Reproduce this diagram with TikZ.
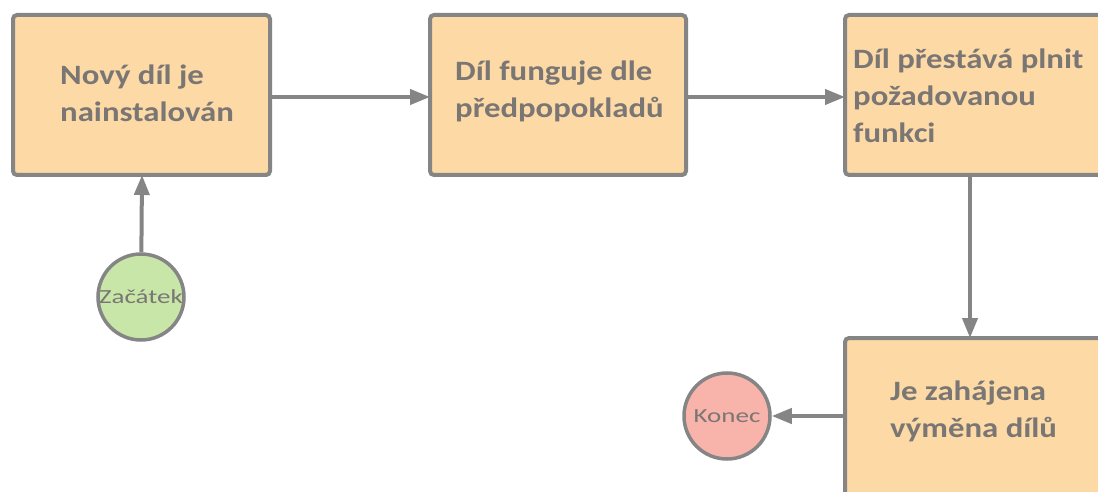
\documentclass[tikz,border=0pt]{standalone}
\usepackage{fontspec}
\setmainfont{Carlito}
\newfontfamily\boxfont{Carlito}[FakeStretch=1.17]
\newfontfamily\termfont{Carlito}[FakeStretch=1.35]
\usetikzlibrary{arrows.meta}
\definecolor{boxfill}{HTML}{FDD9A6}
\definecolor{edge}{HTML}{858585}
\definecolor{txt}{HTML}{7A7674}
\definecolor{startfill}{HTML}{C8E6A8}
\definecolor{endfill}{HTML}{F8B3AB}
\tikzset{
  procbox/.style={draw=edge, line width=4pt, fill=boxfill, rounded corners=4pt},
  boxtext/.style={anchor=west, text=txt, font=\boxfont\fontsize{28}{37}\selectfont\bfseries, align=left, inner sep=0pt},
  terminal/.style={circle, draw=edge, line width=3.5pt, minimum size=86pt, inner sep=0pt, text=txt, font=\termfont\fontsize{20}{22}\selectfont},
  flow/.style={draw=edge, line width=4pt, -{Triangle[length=20pt,width=15pt]}}
}
\begin{document}
\begin{tikzpicture}[x=1pt,y=-1pt]
\useasboundingbox (0,0) rectangle (1098,492);
\clip (0,0) rectangle (1098,492);
\fill[white] (0,0) rectangle (1098,492);
% boxes
\draw[procbox] (13,15) rectangle (270,175);
\draw[procbox] (430,15) rectangle (686,175);
\draw[procbox] (845,15) rectangle (1120,175);
\draw[procbox] (845,338) rectangle (1120,520);
% named anchors for connectors
\coordinate (b1r) at (270,97);
\coordinate (b1b) at (142,175);
\coordinate (b2l) at (430,97);
\coordinate (b2r) at (686,97);
\coordinate (b3l) at (845,97);
\coordinate (b3b) at (970,175);
\coordinate (b4t) at (970,338);
\coordinate (b4l) at (845,416);
% texts
\node[boxtext] (t1) at (60,93) {Nový díl je\\nainstalován};
\node[boxtext] (t2) at (455,91) {Díl funguje dle\\předpopokladů};
\node[boxtext] (t3) at (853,96) {Díl přestává plnit\\požadovanou\\funkci};
\node[boxtext] (t4) at (890,411) {Je zahájena\\výměna dílů};
% terminals
\node[terminal, fill=startfill] (start) at (141,297) {Začátek};
\node[terminal, fill=endfill] (end) at (727,416) {Konec};
% connectors
\draw[flow] (start) -- (b1b);
\draw[flow] (b1r) -- (b2l);
\draw[flow] (b2r) -- (b3l);
\draw[flow] (b3b) -- (b4t);
\draw[flow] (b4l) -- (end);
\end{tikzpicture}
\end{document}
